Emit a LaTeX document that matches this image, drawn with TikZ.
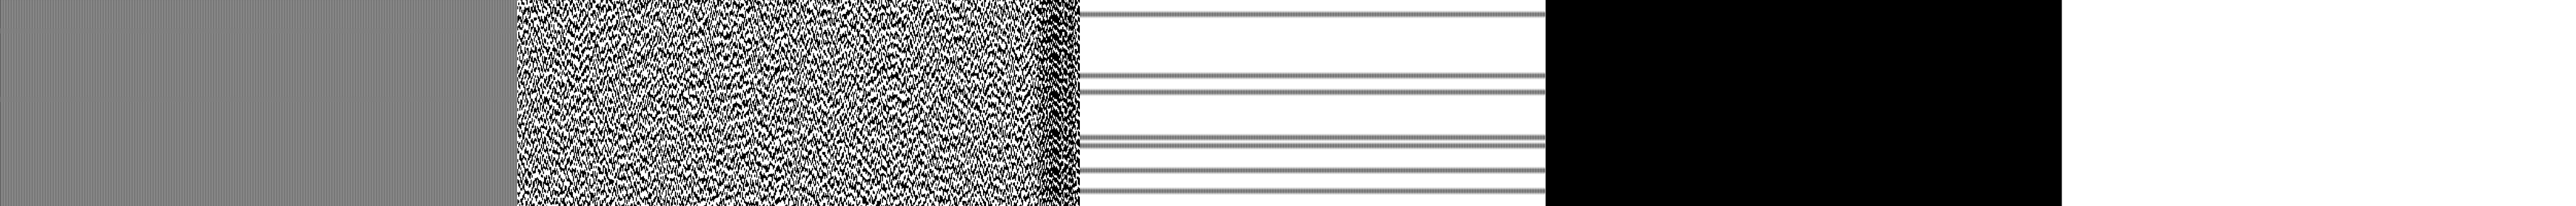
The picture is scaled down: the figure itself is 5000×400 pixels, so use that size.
\documentclass[tikz,border=0pt]{standalone}
\tikzset{
  stripes/.style={dash pattern=on 0.1pt off 0.1pt},
  noiseA/.style={dash pattern=on 1.1pt off 1.0pt on 0.5pt off 1.6pt on 0.7pt off 0.8pt on 1.6pt off 1.2pt on 0.5pt off 1.4pt},
  noiseB/.style={dash pattern=on 0.6pt off 1.3pt on 1.3pt off 0.7pt on 0.8pt off 1.7pt on 0.5pt off 0.9pt on 1.0pt off 1.1pt},
  noiseC/.style={dash pattern=on 0.9pt off 0.6pt on 0.5pt off 1.5pt on 1.4pt off 1.0pt on 0.6pt off 1.3pt},
  noiseD/.style={dash pattern=on 0.5pt off 0.8pt on 1.2pt off 1.2pt on 0.8pt off 0.7pt on 0.5pt off 1.9pt on 1.1pt off 0.9pt},
  noiseE/.style={dash pattern=on 1.5pt off 0.5pt on 1.0pt off 0.7pt on 1.8pt off 0.4pt on 0.9pt off 0.6pt},
}
\begin{document}
\begin{tikzpicture}[x=0.1pt,y=-0.1pt]
\useasboundingbox (0,0) rectangle (5000,400);
\fill[white] (0,0) rectangle (5000,400);
% block 1: fine vertical stripes
\draw[black, line width=40pt, stripes] (0,200) -- (1002,200);
\foreach \yb in {55,188}{
  \fill[black!28] (0,\yb) rectangle (1002,\yb+10);
  \draw[black!72, line width=1pt, stripes] (0,\yb+5) -- (1002,\yb+5);
}
% block 2: noise
\pgfmathsetseed{7}
\foreach \i in {0,...,545}{
  \pgfmathsetmacro{\ph}{rnd*10}
  \pgfmathtruncatemacro{\kk}{\i>502 ? random(4,6) : random(1,4)}
  \ifcase\kk\or
    \draw[black, line width=0.2pt, noiseA, dash phase=\ph pt] (1005+2*\i,0) -- (1005+2*\i,400);
  \or
    \draw[black, line width=0.2pt, noiseB, dash phase=\ph pt] (1005+2*\i,0) -- (1005+2*\i,400);
  \or
    \draw[black, line width=0.2pt, noiseC, dash phase=\ph pt] (1005+2*\i,0) -- (1005+2*\i,400);
  \or
    \draw[black, line width=0.2pt, noiseD, dash phase=\ph pt] (1005+2*\i,0) -- (1005+2*\i,400);
  \else
    \draw[black, line width=0.2pt, noiseE, dash phase=\ph pt] (1005+2*\i,0) -- (1005+2*\i,400);
  \fi
}
% block 3: striped horizontal lines
\foreach \yl in {28,147,179,267,283,331,371}{
  \draw[black!25, line width=1.4pt, stripes] (2096,\yl) -- (3000,\yl);
  \draw[black!65, line width=1.0pt, stripes] (2096,\yl) -- (3000,\yl);
  \draw[black, line width=0.6pt, stripes] (2096,\yl) -- (3000,\yl);
}
% block 4: black
\fill[black] (3000,0) rectangle (4002,400);
\end{tikzpicture}
\end{document}
